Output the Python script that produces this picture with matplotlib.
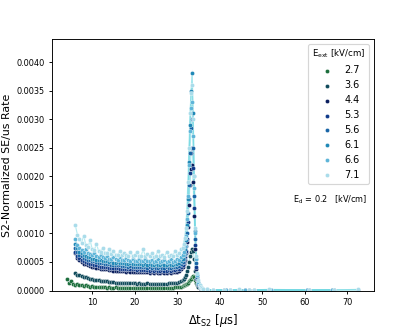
import numpy as np
import matplotlib
matplotlib.use("Agg")
import matplotlib.pyplot as plt

# ---------------- data (rates in units of 1e-5) ----------------
FIELDS = ["2.7", "3.6", "4.4", "5.3", "5.6", "6.1", "6.6", "7.1"]
COLORS = ["#1b6e3c", "#0f4a5a", "#0a1e5e", "#0f3a8a", "#1764a6", "#1f88b6", "#5db4d8", "#a9dcea"]

X_PRE = [4.0, 4.5, 5.0, 5.5]                 # only 2.7 kV/cm starts earlier
X_MAIN = list(np.arange(6.0, 31.01, 0.5))    # bin centres
X_PEAK = list(np.arange(31.25, 36.01, 0.25))
X_TAIL = [37.0, 38.5, 41.0, 41.5, 42.5, 44.5, 46.0, 47.0, 48.0, 51.5, 52.0, 60.5, 61.0, 66.5, 67.0, 72.5]

PRE_27 = [20, 14, 17, 11]

MAIN = {
    "7.1": [115, 98, 90, 84, 96, 79, 76, 88, 72, 71, 82, 69, 68, 75, 66, 65, 72, 64, 70, 63, 63, 69, 62, 66, 62, 61,
            67, 61, 62, 68, 60, 61, 72, 60, 64, 60, 66, 59, 61, 70, 60, 63, 59, 68, 60, 62, 61, 69, 62, 65, 72],
    "6.6": [90, 80, 74, 71, 68, 72, 65, 64, 62, 66, 60, 59, 63, 58, 57, 61, 56, 56, 59, 55, 54, 58, 54, 53, 57, 53,
            52, 56, 52, 52, 55, 51, 52, 55, 51, 51, 54, 50, 52, 55, 50, 51, 54, 50, 51, 55, 50, 52, 55, 53, 58],
    "6.1": [82, 74, 68, 65, 62, 61, 59, 58, 56, 56, 54, 54, 53, 52, 52, 51, 50, 51, 49, 49, 50, 48, 48, 49, 47, 47,
            48, 46, 47, 46, 47, 46, 45, 47, 45, 46, 45, 44, 46, 45, 44, 46, 45, 44, 46, 45, 45, 47, 46, 48, 52],
    "5.6": [75, 68, 63, 60, 57, 56, 54, 53, 52, 51, 50, 49, 48, 48, 47, 46, 46, 45, 45, 44, 44, 44, 43, 43, 43, 42,
            43, 42, 42, 41, 42, 41, 41, 42, 40, 41, 40, 41, 40, 40, 41, 40, 40, 41, 40, 40, 41, 41, 41, 43, 46],
    "5.3": [68, 61, 57, 54, 51, 50, 48, 47, 46, 45, 44, 43, 42, 42, 41, 41, 40, 40, 39, 39, 39, 38, 38, 38, 37, 38,
            37, 37, 37, 36, 37, 36, 36, 36, 36, 35, 36, 35, 36, 35, 35, 36, 35, 35, 36, 35, 36, 36, 37, 38, 41],
    "4.4": [65, 57, 53, 50, 47, 46, 44, 43, 42, 41, 40, 39, 38, 38, 37, 37, 36, 36, 35, 35, 35, 34, 34, 34, 33, 34,
            33, 33, 33, 32, 33, 32, 32, 32, 32, 31, 32, 31, 32, 31, 31, 32, 31, 31, 32, 31, 32, 32, 33, 34, 37],
    "3.6": [30, 28, 27, 26, 24, 23, 22, 21, 20, 19, 19, 18, 17, 17, 16, 16, 15, 15, 15, 14, 14, 14, 14, 13, 13, 14,
            13, 13, 13, 12, 13, 12, 12, 12, 13, 12, 12, 12, 12, 11, 12, 12, 12, 12, 13, 13, 13, 14, 14, 15, 17],
    "2.7": [10, 12, 9, 10, 8, 9, 8, 7, 8, 7, 7, 6, 7, 6, 6, 5, 6, 5, 5, 6, 5, 5, 5, 4, 5, 5,
            4, 5, 4, 5, 4, 4, 5, 4, 4, 5, 4, 4, 5, 4, 4, 5, 4, 5, 5, 5, 5, 6, 6, 7, 7],
}

PEAK = {
    "7.1": [75, 82, 92, 110, 140, 190, 250, 310, 345, 360, 300, 200, 110, 60, 30, 18, 10, 6, 4, 3],
    "6.6": [62, 68, 78, 95, 125, 165, 220, 280, 320, 330, 270, 180, 100, 55, 28, 15, 9, 5, 3, 2],
    "6.1": [56, 62, 72, 88, 115, 160, 225, 290, 350, 380, 310, 200, 105, 55, 28, 14, 8, 5, 3, 2],
    "5.6": [50, 55, 64, 78, 100, 135, 185, 240, 285, 300, 250, 165, 90, 48, 24, 12, 7, 4, 2, 1],
    "5.3": [45, 50, 58, 70, 90, 120, 160, 205, 240, 250, 215, 145, 80, 42, 21, 11, 6, 3, 2, 1],
    "4.4": [41, 46, 54, 66, 85, 112, 150, 185, 212, 220, 190, 130, 72, 38, 19, 10, 5, 3, 2, 1],
    "3.6": [19, 21, 24, 28, 34, 42, 50, 60, 68, 72, 70, 55, 35, 20, 11, 6, 4, 2, 1, 1],
    "2.7": [8, 9, 10, 11, 12, 14, 16, 18, 21, 23, 25, 24, 19, 14, 9, 6, 4, 3, 2, 1],
}

# uncertainty of the 7.1 kV/cm peak (shaded band)
PEAK_ERR_71 = [8, 9, 10, 12, 16, 22, 28, 32, 30, 28, 28, 24, 16, 10, 6, 4, 3, 2, 1, 1]

nan = np.nan
TAIL = {
    "7.1": [2, 1, 1, nan, 1, 2, nan, 1, 1, 2, nan, nan, 1, nan, 1, 2],
    "6.6": [2, 1, nan, 1, 1, nan, 1, nan, 1, nan, 1, 1, nan, 1, nan, 1],
    "6.1": [1, 1, 1, nan, 0, 1, nan, 1, nan, 1, nan, 1, nan, 1, 1, nan],
    "5.6": [1, nan, 1, 1, nan, 1, 1, nan, 0, nan, 1, nan, 1, nan, 1, nan],
    "5.3": [1, 1, nan, 1, 1, nan, 1, nan, 1, 1, nan, 1, 1, nan, 1, nan],
    "4.4": [1, nan, 1, nan, 1, 1, nan, 1, nan, 1, nan, 1, nan, 1, nan, 1],
    "3.6": [1, 1, nan, 0, nan, 1, nan, 0, nan, nan, 1, nan, 0, nan, 1, nan],
    "2.7": [1, nan, 0, nan, 1, nan, 0, nan, 1, nan, nan, 0, nan, 1, nan, nan],
}

SCALE = 1e-5


def series(f):
    xs = list(X_MAIN) + list(X_PEAK) + list(X_TAIL)
    ys = MAIN[f] + PEAK[f] + TAIL[f]
    if f == "2.7":
        xs = X_PRE + xs
        ys = PRE_27 + ys
    return np.array(xs, dtype=float), np.array(ys, dtype=float) * SCALE


# ---------------- figure ----------------
fig = plt.figure(figsize=(5.0, 4.0), dpi=83)
ax = fig.add_axes([0.125, 0.125, 0.776, 0.757])

# shaded uncertainty around the highest-field peak
xp = np.array(X_PEAK)
yp = np.array(PEAK["7.1"], dtype=float) * SCALE
ep = np.array(PEAK_ERR_71, dtype=float) * SCALE
ax.fill_between(xp, yp - ep, yp + ep, color="#9be6ee", alpha=0.45, lw=0, zorder=0.5)

for f in FIELDS:
    xs, ys = series(f)
    m = ~np.isnan(ys)
    ax.plot(xs[m], ys[m], color="#6fd8e2", lw=1.0, alpha=0.5, zorder=1)

for i, f in enumerate(FIELDS):
    xs, ys = series(f)
    ax.scatter(xs, ys, s=13, color=COLORS[i], edgecolor="white", linewidths=0.3,
               label=f, zorder=2 + i * 0.01)

ax.set_ylim(0, 0.0044)
ax.set_xlim(0.5, 76.3)
ax.set_xticks([10, 20, 30, 40, 50, 60, 70])
ax.set_yticks(np.arange(0, 0.00401, 0.0005))
ax.yaxis.set_major_formatter(matplotlib.ticker.FormatStrFormatter("%.4f"))
ax.tick_params(labelsize=7, length=3)

ax.set_xlabel(r"$\Delta$t$_{\rm S2}$ [$\mu$s]", fontsize=10)
ax.set_ylabel("S2-Normalized SE/us Rate", fontsize=9.5)

leg = ax.legend(title=r"E$_{\rm ext}$ [kV/cm]", loc="upper right", fontsize=8.5,
                title_fontsize=7.5, scatterpoints=1)

ax.text(0.75, 0.36, r"E$_{\rm d}$ = 0.2   [kV/cm]", transform=ax.transAxes,
        fontsize=7, va="center", ha="left")

fig.savefig("out.png", dpi=83)
